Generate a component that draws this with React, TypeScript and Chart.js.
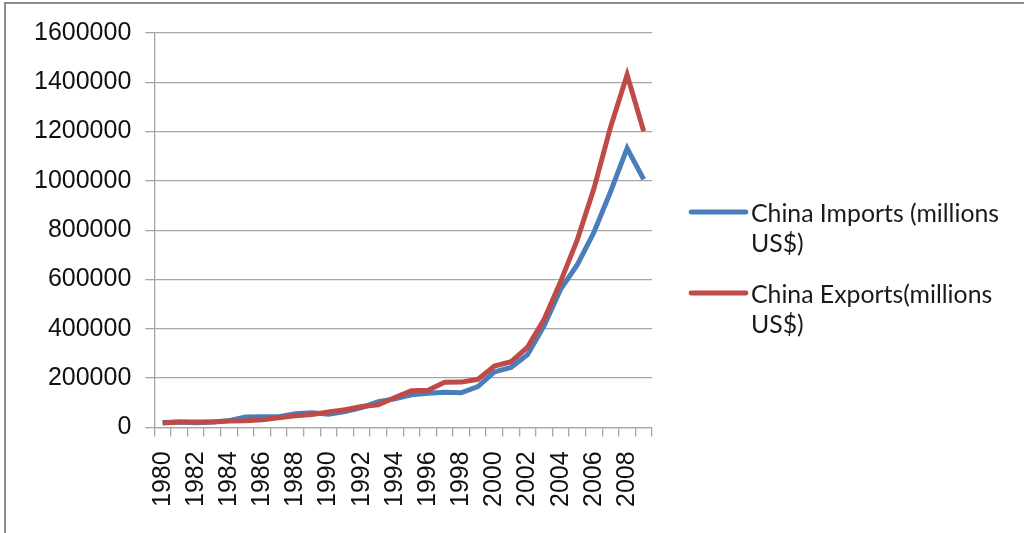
import React, { useEffect, useRef } from "react";
import { Chart, registerables } from "chart.js";

Chart.register(...registerables);

const years: string[] = [
  "1980", "1981", "1982", "1983", "1984", "1985", "1986", "1987", "1988", "1989",
  "1990", "1991", "1992", "1993", "1994", "1995", "1996", "1997", "1998", "1999",
  "2000", "2001", "2002", "2003", "2004", "2005", "2006", "2007", "2008", "2009",
];

const chinaImports: number[] = [
  20017, 22015, 19285, 21390, 27410, 42252, 42904, 43216, 55275, 59140,
  53345, 63791, 80585, 103959, 115614, 132084, 138833, 142370, 140237, 165699,
  225094, 243553, 295170, 412760, 561229, 659953, 791461, 956116, 1132562, 1005923,
];

const chinaExports: number[] = [
  18099, 22007, 22321, 22226, 26139, 27350, 30942, 39437, 47516, 52538,
  62091, 71843, 84940, 91744, 121006, 148780, 151048, 182792, 183712, 194931,
  249203, 266098, 325596, 438228, 593326, 761953, 968978, 1217776, 1430693, 1201612,
];

const seriesLabels: string[] = ["China Imports (millions US$)", "China Exports(millions US$)"];
const seriesColors: string[] = ["#4a7ebb", "#be4b48"];

const yMin = 0;
const yMax = 1600000;
const yStep = 200000;

const legendPlugin = {
  id: "sideLegend",
  afterDraw(chart: any) {
    const ctx = chart.ctx;
    const ds = chart.data.datasets;
    ctx.save();
    ctx.font = '24.8px Lato, "Open Sans", sans-serif';
    ctx.fillStyle = "#1a1a1a";
    ctx.textBaseline = "alphabetic";
    ctx.textAlign = "left";
    const lineX0 = 691;
    const lineX1 = 746;
    const textX = 751;
    const maxW = 265;
    const starts = [212, 293];
    ds.forEach((d: any, i: number) => {
      const y = starts[i];
      ctx.strokeStyle = d.borderColor;
      ctx.lineWidth = 4.8;
      ctx.lineCap = "round";
      ctx.beginPath();
      ctx.moveTo(lineX0, y);
      ctx.lineTo(lineX1, y);
      ctx.stroke();
      const words = String(d.label).split(" ");
      const lines: string[] = [];
      let cur = "";
      words.forEach((w) => {
        const test = cur ? cur + " " + w : w;
        if (ctx.measureText(test).width > maxW && cur) {
          lines.push(cur);
          cur = w;
        } else {
          cur = test;
        }
      });
      if (cur) lines.push(cur);
      lines.forEach((ln, k) => {
        ctx.fillText(ln, textX, y + 10 + k * 30);
      });
    });
    ctx.restore();
  },
};

export default function App() {
  const ref = useRef<HTMLCanvasElement | null>(null);
  useEffect(() => {
    document.body.style.margin = "0";
    document.body.style.overflow = "hidden";
    const canvas = ref.current;
    if (!canvas) return;
    const grey = "#a6a6a6";
    const chart = new Chart(canvas, {
      type: "line",
      data: {
        labels: years,
        datasets: [
          {
            label: seriesLabels[0],
            data: chinaImports,
            borderColor: seriesColors[0],
            backgroundColor: seriesColors[0],
            borderWidth: 5,
            pointRadius: 0,
            tension: 0,
            order: 1,
          },
          {
            label: seriesLabels[1],
            data: chinaExports,
            borderColor: seriesColors[1],
            backgroundColor: seriesColors[1],
            borderWidth: 5,
            pointRadius: 0,
            tension: 0,
            order: 0,
          },
        ],
      },
      options: {
        animation: false,
        responsive: false,
        maintainAspectRatio: false,
        devicePixelRatio: 1,
        layout: { padding: { left: 20, right: 372, top: 33, bottom: 11 } },
        plugins: {
          legend: { display: false },
          tooltip: { enabled: false },
        },
        scales: {
          x: {
            type: "category",
            offset: true,
            grid: {
              offset: true,
              drawOnChartArea: false,
              drawTicks: true,
              tickLength: 9,
              color: grey,
              lineWidth: 1.3,
            },
            border: { display: true, color: grey, width: 1.3 },
            ticks: {
              autoSkip: false,
              maxRotation: 90,
              minRotation: 90,
              padding: 15,
              color: "#111",
              font: { family: '"Liberation Sans", Arial, sans-serif', size: 25 },
              callback: (_v: any, i: number) => (i % 2 === 0 ? years[i] : ""),
            },
          },
          y: {
            min: yMin,
            max: yMax,
            grid: {
              color: grey,
              lineWidth: 1.3,
              drawTicks: true,
              tickLength: 9,
            },
            border: { display: true, color: grey, width: 1.3 },
            ticks: {
              stepSize: yStep,
              padding: 14,
              color: "#111",
              font: { family: '"Liberation Sans", Arial, sans-serif', size: 25 },
              callback: (v: any) => String(v),
            },
          },
        },
      },
      plugins: [legendPlugin],
    });
    return () => chart.destroy();
  }, []);
  return (
    <div style={{ position: "relative", width: 1024, height: 533, overflow: "hidden", background: "#fff" }}>
      <div
        style={{
          position: "absolute",
          left: 4,
          top: 2,
          width: 1100,
          height: 600,
          borderLeft: "2px solid #8c8c8c",
          borderTop: "2px solid #8c8c8c",
          boxSizing: "border-box",
        }}
      />
      <canvas ref={ref} width={1024} height={533} style={{ position: "absolute", left: 0, top: 0, width: 1024, height: 533 }} />
    </div>
  );
}
